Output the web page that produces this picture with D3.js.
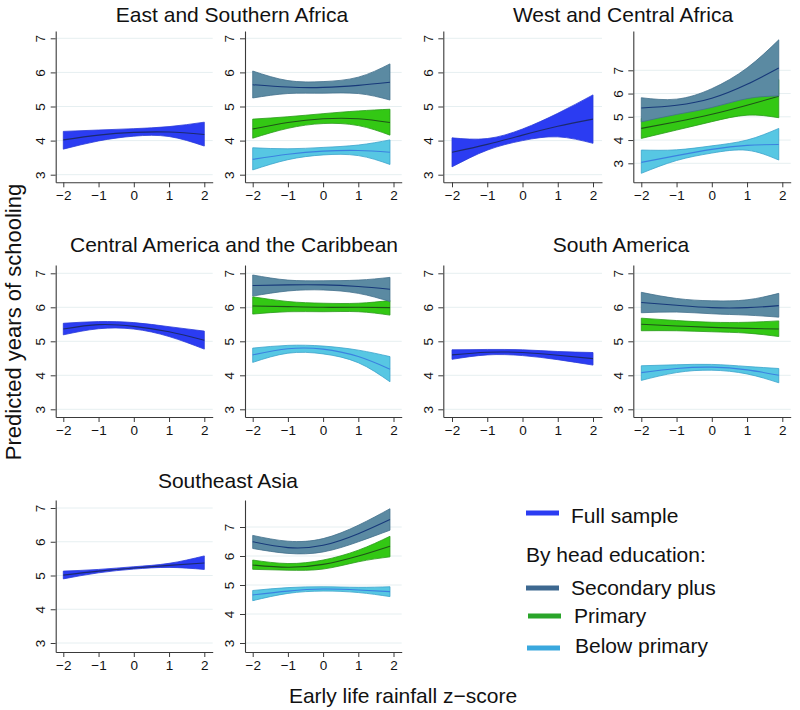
<!DOCTYPE html>
<html>
<head>
<meta charset="utf-8">
<script src="https://cdn.jsdelivr.net/npm/d3@7"></script>
<style>
  html, body { margin: 0; padding: 0; background: #fff; }
  svg { display: block; font-family: "Liberation Sans", Arial, Helvetica, sans-serif; }
</style>
</head>
<body>
<svg id="chart" width="800" height="710"></svg>
<script>
// ---------------- DATA ----------------
const regions = ["East and Southern Africa", "West and Central Africa",
  "Central America and the Caribbean", "South America", "Southeast Asia"];
const xFull = [-2, -1, 0, 1, 2];
const xEdu = [-2, -1, 0, 1, 1.9];
const yTicks = [3, 4, 5, 6, 7];
const xTicks = [-2, -1, 0, 1, 2];
const groups = ["Secondary plus", "Primary", "Below primary"];
const legendFull = "Full sample";
const legendHeader = "By head education:";

// East and Southern Africa
const esaFull      = { mean: [4.02, 4.16, 4.24, 4.25, 4.18], lo: [3.75, 3.99, 4.13, 4.12, 3.84], hi: [4.27, 4.31, 4.35, 4.41, 4.54] };
const esaSecondary = { mean: [5.64, 5.57, 5.56, 5.62, 5.71], lo: [5.25, 5.38, 5.39, 5.38, 5.19], hi: [6.04, 5.76, 5.73, 5.86, 6.25] };
const esaPrimary   = { mean: [4.34, 4.53, 4.64, 4.64, 4.53], lo: [4.07, 4.36, 4.50, 4.44, 4.16], hi: [4.63, 4.70, 4.79, 4.87, 4.92] };
const esaBelow     = { mean: [3.45, 3.60, 3.69, 3.71, 3.66], lo: [3.14, 3.44, 3.58, 3.56, 3.30], hi: [3.79, 3.76, 3.80, 3.87, 4.02] };

// West and Central Africa
const wcaFull      = { mean: [3.66, 3.89, 4.16, 4.42, 4.63], lo: [3.23, 3.72, 4.00, 4.11, 3.92], hi: [4.08, 4.06, 4.34, 4.80, 5.34] };
const wcaSecondary = { mean: [5.38, 5.50, 5.80, 6.40, 7.10], lo: [4.78, 5.10, 5.40, 5.78, 5.90], hi: [5.82, 5.76, 6.21, 7.10, 8.31] };
const wcaPrimary   = { mean: [4.50, 4.79, 5.11, 5.50, 5.88], lo: [4.07, 4.43, 4.79, 5.07, 4.96], hi: [4.93, 5.20, 5.52, 5.98, 6.60] };
const wcaBelow     = { mean: [3.04, 3.33, 3.60, 3.77, 3.81], lo: [2.57, 3.12, 3.44, 3.56, 3.14], hi: [3.57, 3.58, 3.75, 4.00, 4.50] };

// Central America and the Caribbean
const camFull      = { mean: [5.36, 5.49, 5.44, 5.28, 5.03], lo: [5.19, 5.37, 5.36, 5.14, 4.77], hi: [5.53, 5.58, 5.55, 5.43, 5.30] };
const camSecondary = { mean: [6.64, 6.66, 6.66, 6.61, 6.53], lo: [6.33, 6.48, 6.51, 6.41, 6.17], hi: [6.95, 6.80, 6.78, 6.80, 6.88] };
const camPrimary   = { mean: [6.04, 6.02, 6.00, 6.00, 5.99], lo: [5.80, 5.87, 5.87, 5.87, 5.77], hi: [6.31, 6.17, 6.12, 6.12, 6.20] };
const camBelow     = { mean: [4.60, 4.78, 4.77, 4.55, 4.18], lo: [4.38, 4.65, 4.63, 4.37, 3.81], hi: [4.80, 4.88, 4.86, 4.74, 4.55] };

// South America
const samFull      = { mean: [4.60, 4.68, 4.67, 4.59, 4.49], lo: [4.47, 4.60, 4.58, 4.46, 4.30], hi: [4.75, 4.76, 4.75, 4.70, 4.67] };
const samSecondary = { mean: [6.14, 6.06, 5.99, 5.99, 6.05], lo: [5.84, 5.86, 5.81, 5.77, 5.71], hi: [6.44, 6.26, 6.19, 6.22, 6.41] };
const samPrimary   = { mean: [5.50, 5.45, 5.41, 5.38, 5.36], lo: [5.31, 5.31, 5.28, 5.24, 5.14], hi: [5.68, 5.61, 5.56, 5.56, 5.60] };
const samBelow     = { mean: [4.08, 4.20, 4.24, 4.16, 4.00], lo: [3.85, 4.08, 4.15, 4.04, 3.78], hi: [4.28, 4.31, 4.32, 4.26, 4.20] };

// Southeast Asia
const seaFull      = { mean: [5.01, 5.13, 5.22, 5.30, 5.37], lo: [4.90, 5.08, 5.19, 5.24, 5.18], hi: [5.13, 5.18, 5.26, 5.36, 5.58] };
const seaSecondary = { mean: [6.49, 6.29, 6.37, 6.77, 7.26], lo: [6.26, 6.09, 6.14, 6.49, 6.89], hi: [6.71, 6.51, 6.60, 7.06, 7.63] };
const seaPrimary   = { mean: [5.69, 5.61, 5.71, 6.00, 6.34], lo: [5.54, 5.51, 5.55, 5.80, 5.97], hi: [5.86, 5.74, 5.86, 6.20, 6.68] };
const seaBelow     = { mean: [4.66, 4.79, 4.86, 4.83, 4.77], lo: [4.46, 4.71, 4.79, 4.74, 4.60], hi: [4.81, 4.91, 4.94, 4.92, 4.94] };

// ---------------- STYLES ----------------
const fullStyle = { fill: "#2b3cf2", edge: "#2a3ad8", line: "#1c2a6e" };
const groupStyles = [
  { fill: "#5b8aa2", edge: "#42708c", line: "#17397a", legend: "#3d6890" },
  { fill: "#33c814", edge: "#2a9a1a", line: "#1f5418", legend: "#2aa52a" },
  { fill: "#57c7e3", edge: "#3aa3cc", line: "#3b82e0", legend: "#3aa8de" }
];

// ---------------- LAYOUT ----------------
const cols = [
  { axis: 55.7,  xm2: 63.3,  xp2: 204.3, end: 212.7 },
  { axis: 245,   xm2: 252.7, xp2: 393.5, end: 401.7 },
  { axis: 443.3, xm2: 452,   xp2: 593,   end: 602 },
  { axis: 633.3, xm2: 641.3, xp2: 782.3, end: 790.7 }
];
const rows = [
  { top: 31,  bottom: 182.3, y3: 174.7, y7: 38.3,  titleY: 22 },
  { top: 265, bottom: 417,   y3: 409.3, y7: 273.3, titleY: 252 },
  { top: 500, bottom: 652,   y3: 643,   y7: 508,   titleY: 488 }
];

const panels = [
  { region: 0, row: 0, col: 0, series: [esaFull], full: true },
  { region: 0, row: 0, col: 1, series: [esaBelow, esaPrimary, esaSecondary], full: false },
  { region: 1, row: 0, col: 2, series: [wcaFull], full: true },
  { region: 1, row: 0, col: 3, series: [wcaBelow, wcaPrimary, wcaSecondary], full: false, y3: 163.3, y7: 70.3 },
  { region: 2, row: 1, col: 0, series: [camFull], full: true },
  { region: 2, row: 1, col: 1, series: [camBelow, camPrimary, camSecondary], full: false },
  { region: 3, row: 1, col: 2, series: [samFull], full: true },
  { region: 3, row: 1, col: 3, series: [samBelow, samPrimary, samSecondary], full: false },
  { region: 4, row: 2, col: 0, series: [seaFull], full: true },
  { region: 4, row: 2, col: 1, series: [seaBelow, seaPrimary, seaSecondary], full: false, y3: 643, y7: 527 }
];

const svg = d3.select("#chart");
const axisColor = "#3a3a3a";
const fmt = d3.format("d");

panels.forEach(p => {
  const c = cols[p.col], r = rows[p.row];
  const y3 = p.y3 ?? r.y3, y7 = p.y7 ?? r.y7;
  const ppuY = (y3 - y7) / 4;
  const yLo = 3 - (r.bottom - y3) / ppuY;
  const yHi = 7 + (y7 - r.top) / ppuY;
  const y = d3.scaleLinear().domain([yLo, yHi]).range([r.bottom, r.top]);
  const ppuX = (c.xp2 - c.xm2) / 4;
  const xLo = -2 - (c.xm2 - c.axis) / ppuX;
  const xHi = 2 + (c.end - c.xp2) / ppuX;
  const x = d3.scaleLinear().domain([xLo, xHi]).range([c.axis, c.end]);

  const g = svg.append("g");
  // gridlines
  g.selectAll("line.grid").data(yTicks).join("line")
    .attr("x1", c.axis).attr("x2", c.end)
    .attr("y1", d => y(d)).attr("y2", d => y(d))
    .attr("stroke", "#e6eff1").attr("stroke-width", 1);

  // bands
  const xs = p.full ? xFull : xEdu;
  p.series.forEach((s, i) => {
    const st = p.full ? fullStyle : groupStyles[2 - i];
    const pts = xs.map((xv, k) => ({ x: xv, m: s.mean[k], lo: s.lo[k], hi: s.hi[k] }));
    const area = d3.area().curve(d3.curveNatural)
      .x(d => x(d.x)).y0(d => y(d.lo)).y1(d => y(d.hi));
    const line = d3.line().curve(d3.curveNatural).x(d => x(d.x)).y(d => y(d.m));
    g.append("path").attr("d", area(pts))
      .attr("fill", st.fill).attr("stroke", st.edge).attr("stroke-width", 0.8);
    g.append("path").attr("d", line(pts))
      .attr("fill", "none").attr("stroke", st.line).attr("stroke-width", 1.1);
  });

  // y axis
  const ya = g.append("g").attr("transform", `translate(${c.axis},0)`)
    .call(d3.axisLeft(y).tickValues(yTicks).tickSize(5).tickSizeOuter(0).tickFormat(fmt));
  ya.select(".domain").attr("stroke", axisColor).attr("stroke-width", 1.1);
  ya.selectAll(".tick line").attr("stroke", axisColor);
  ya.selectAll(".tick text")
    .attr("x", null).attr("dy", null)
    .attr("text-anchor", "middle")
    .attr("transform", "translate(-10.7,0) rotate(-90)")
    .attr("font-size", 13.5).attr("fill", "#111")
    .attr("font-family", "'Liberation Sans', Arial, sans-serif");

  // x axis
  const xa = g.append("g").attr("transform", `translate(0,${r.bottom})`)
    .call(d3.axisBottom(x).tickValues(xTicks).tickSize(5).tickPadding(3.5).tickSizeOuter(0).tickFormat(fmt));
  xa.select(".domain").attr("stroke", axisColor).attr("stroke-width", 1.1);
  xa.selectAll(".tick line").attr("stroke", axisColor);
  xa.selectAll(".tick text").attr("font-size", 13.5).attr("fill", "#111")
    .attr("font-family", "'Liberation Sans', Arial, sans-serif");
});

// region titles (centered over panel pairs)
const titlePos = [
  { x: 232, row: 0 }, { x: 623, row: 0 }, { x: 234, row: 1 }, { x: 621, row: 1 }, { x: 228, row: 2 }
];
svg.selectAll("text.title").data(regions).join("text")
  .attr("class", "title")
  .attr("x", (d, i) => titlePos[i].x)
  .attr("y", (d, i) => rows[titlePos[i].row].titleY)
  .attr("text-anchor", "middle")
  .attr("font-size", 21).attr("fill", "#111")
  .text(d => d);

// axis titles
svg.append("text")
  .attr("transform", "translate(21,322) rotate(-90)")
  .attr("text-anchor", "middle").attr("font-size", 22).attr("fill", "#111")
  .text("Predicted years of schooling");
svg.append("text")
  .attr("x", 403).attr("y", 703)
  .attr("text-anchor", "middle").attr("font-size", 21).attr("fill", "#111")
  .text("Early life rainfall z\u2212score");

// legend
const lg = svg.append("g");
const legendItems = [
  { label: legendFull, color: fullStyle.fill, sy: 513, ty: 523, tx: 571, sx: 526 },
  { label: groups[0], color: groupStyles[0].legend, sy: 588, ty: 595, tx: 571, sx: 526 },
  { label: groups[1], color: groupStyles[1].legend, sy: 616, ty: 623, tx: 574, sx: 528 },
  { label: groups[2], color: groupStyles[2].legend, sy: 648, ty: 653, tx: 575, sx: 527 }
];
legendItems.forEach(it => {
  lg.append("line").attr("x1", it.sx).attr("x2", it.sx + 33)
    .attr("y1", it.sy).attr("y2", it.sy)
    .attr("stroke", it.color).attr("stroke-width", 5);
  lg.append("text").attr("x", it.tx).attr("y", it.ty)
    .attr("font-size", 21).attr("fill", "#111").text(it.label);
});
lg.append("text").attr("x", 526).attr("y", 562)
  .attr("font-size", 21).attr("fill", "#111").text(legendHeader);
</script>
</body>
</html>
